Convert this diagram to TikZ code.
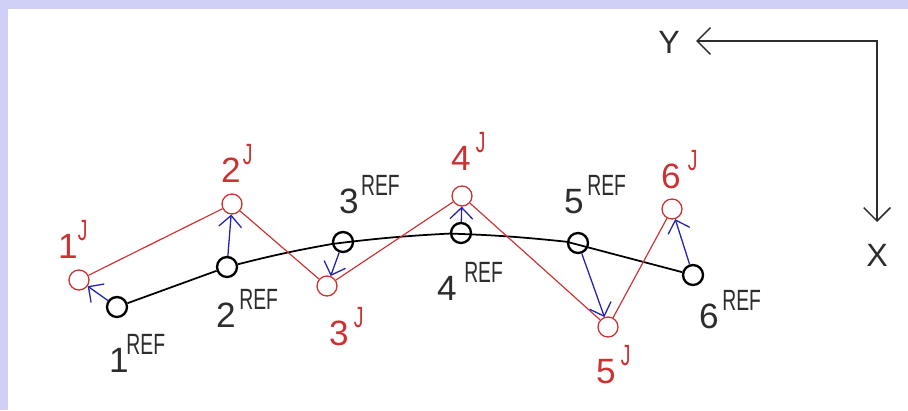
\documentclass[tikz,border=0pt]{standalone}
\usepackage{fontspec}
\setmainfont{Liberation Sans}
\newfontfamily\supfam[FakeStretch=0.66]{Liberation Sans}
\usetikzlibrary{arrows.meta}
\definecolor{cadred}{RGB}{205,50,50}
\definecolor{cadblue}{RGB}{35,35,175}
\definecolor{cadgray}{RGB}{45,45,45}
\definecolor{framebg}{RGB}{208,208,246}

\newcommand{\numfont}{\fontsize{30}{32}\selectfont}
\newcommand{\supfont}{\supfam\fontsize{25}{27}\selectfont}
\newcommand{\ptlab}[3]{{\numfont #1}\hspace{#3}\raisebox{15pt}{\supfont #2}}

\begin{document}
\begin{tikzpicture}[
    x=0.3mm, y=-0.3mm,
    >={Straight Barb[length=4mm, width=8mm]},
    refpt/.style={circle, draw=black, line width=2pt, minimum size=6mm, inner sep=0pt},
    jpt/.style={circle, draw=cadred, line width=1.1pt, minimum size=6mm, inner sep=0pt},
    reflab/.style={anchor=base west, inner sep=0pt, text=cadgray},
    jlab/.style={anchor=base west, inner sep=0pt, text=cadred},
    refline/.style={line width=1.5pt, black},
    jline/.style={line width=1pt, cadred},
    move/.style={-{Straight Barb[length=3.4mm, width=6.8mm]}, line width=1.1pt, cadblue},
    axis/.style={<->, line width=1.3pt, cadgray},
    axlab/.style={font=\fontsize{27.5}{29}\selectfont, text=cadgray, inner sep=0pt},
]
    % frame
    \fill[framebg] (0,0) rectangle (908,410);
    \fill[white] (8,9) rectangle (908,410);

    % reference points
    \node[refpt] (r1) at (117,307) {};
    \node[refpt] (r2) at (227,267) {};
    \node[refpt] (r3) at (343,242) {};
    \node[refpt] (r4) at (461,233) {};
    \node[refpt] (r5) at (578,243) {};
    \node[refpt] (r6) at (693,275) {};

    % joint points
    \node[jpt] (j1) at (79,280) {};
    \node[jpt] (j2) at (232,204) {};
    \node[jpt] (j3) at (327,286) {};
    \node[jpt] (j4) at (462,196) {};
    \node[jpt] (j5) at (608,327) {};
    \node[jpt] (j6) at (672,209) {};

    \draw[refline] (r1) -- (r2) to[bend left=2] (r3) to[bend left=2] (r4)
        to[bend left=2] (r5) -- (r6);
    \draw[jline] (j1) -- (j2) -- (j3) -- (j4) -- (j5) -- (j6);

    \foreach \i in {1,...,6}
        \draw[move] (r\i) -- (j\i);

    % labels
    \node[reflab] (lr1) at (109,372) {\ptlab{1}{REF}{-2pt}};
    \node[reflab] (lr2) at (216,327) {\ptlab{2}{REF}{3pt}};
    \node[reflab] (lr3) at (339,213) {\ptlab{3}{REF}{2pt}};
    \node[reflab] (lr4) at (437,300) {\ptlab{4}{REF}{6.4pt}};
    \node[reflab] (lr5) at (564,213) {\ptlab{5}{REF}{3pt}};
    \node[reflab] (lr6) at (699,328) {\ptlab{6}{REF}{3pt}};

    \node[jlab] (lj1) at (58,258) {\ptlab{1}{J}{0pt}};
    \node[jlab] (lj2) at (221,182) {\ptlab{2}{J}{1.7pt}};
    \node[jlab] (lj3) at (329,345) {\ptlab{3}{J}{4.3pt}};
    \node[jlab] (lj4) at (451,170) {\ptlab{4}{J}{4.3pt}};
    \node[jlab] (lj5) at (596,383) {\ptlab{5}{J}{4.3pt}};
    \node[jlab] (lj6) at (661,188) {\ptlab{6}{J}{6pt}};

    % axes
    \coordinate (origin) at (877,41);
    \coordinate (ytip) at (696,41);
    \coordinate (xtip) at (877,222);
    \draw[axis] (ytip) -- (origin) -- (xtip);
    \node[axlab] (ylab) at (669,42) {Y};
    \node[axlab] (xlab) at (877,255) {X};
\end{tikzpicture}
\end{document}
